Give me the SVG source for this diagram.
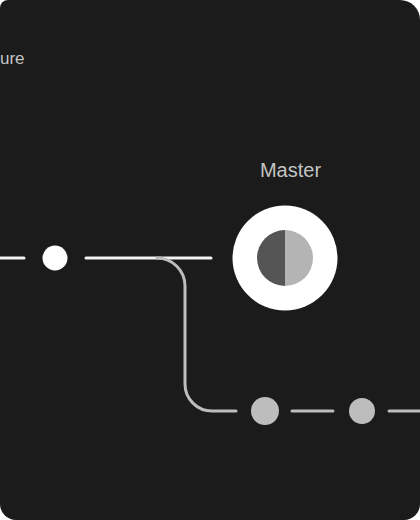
<svg xmlns="http://www.w3.org/2000/svg" width="420" height="520" viewBox="0 0 420 520">
<style>
.lbl{font-family:"Liberation Sans",Arial,sans-serif;font-size:17px;fill:#c4c4c4}
.main{stroke:#f2f2f2;stroke-width:3;fill:none;stroke-linecap:round}
.branch{stroke:#bdbdbd;stroke-width:3;fill:none;stroke-linecap:round}
.gdot{fill:#bdbdbd}
</style>
<rect width="420" height="520" fill="#ffffff"/>
<path d="M8 0 H400 A20 20 0 0 1 420 20 V504 A16 16 0 0 1 404 520 H16 A16 16 0 0 1 0 504 V8 A8 8 0 0 1 8 0 Z" fill="#1b1b1b"/>
<text class="lbl" x="0" y="64">ure</text>
<g id="connectors">
<line class="main" x1="-2" y1="258" x2="24" y2="258"/>
<line class="main" x1="86" y1="258" x2="211" y2="258"/>
<path class="branch" d="M157 258 A28 28 0 0 1 185 286 V384 A27 27 0 0 0 212 411 H236"/>
<line class="branch" x1="292" y1="411" x2="333" y2="411"/>
<line class="branch" x1="389" y1="411" x2="422" y2="411"/>
</g>
<g id="node-start">
<circle cx="55" cy="258" r="12.5" fill="#ffffff"/>
</g>
<g id="node-master">
<text class="lbl" x="290.5" y="177" text-anchor="middle" style="font-size:20px">Master</text>
<circle cx="285" cy="258" r="52.5" fill="#ffffff"/>
<path d="M285 230 A28 28 0 0 0 285 286 Z" fill="#555555"/>
<path d="M285 230 A28 28 0 0 1 285 286 Z" fill="#b4b4b4"/>
</g>
<g id="node-b1">
<circle class="gdot" cx="265" cy="411" r="14"/>
</g>
<g id="node-b2">
<circle class="gdot" cx="362" cy="411" r="13"/>
</g>
</svg>
